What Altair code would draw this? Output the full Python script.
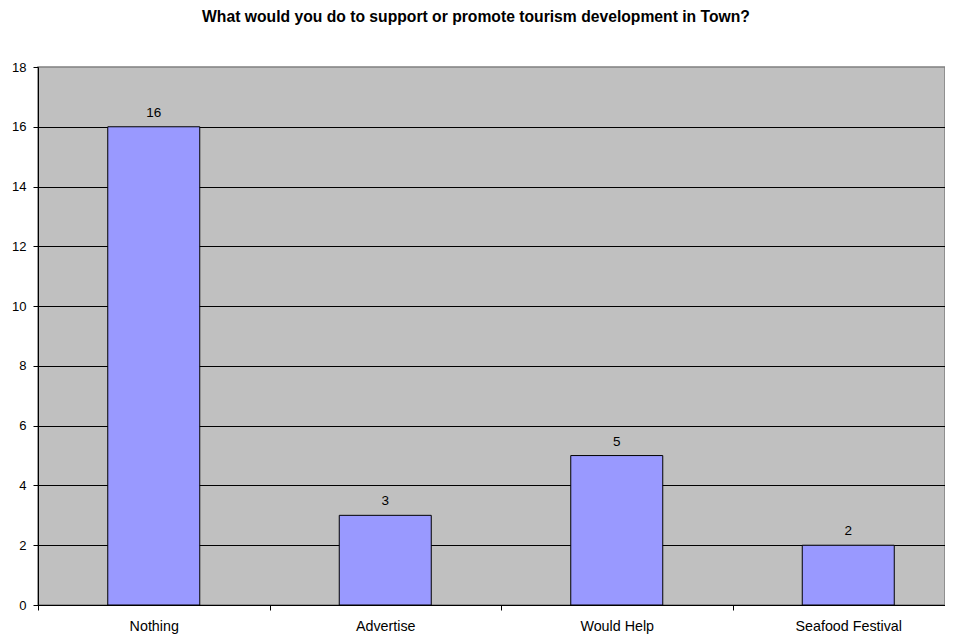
import altair as alt
import pandas as pd

categories = ["Nothing", "Advertise", "Would Help", "Seafood Festival"]
values = [16, 3, 5, 2]
y_ticks = [0, 2, 4, 6, 8, 10, 12, 14, 16, 18]

df = pd.DataFrame({"category": categories, "count": values, "idx": list(range(len(categories)))})

FONT = "Liberation Sans"
W = 907
STEP = 231.5
x_max = -0.5 + W / STEP

label_map = "{" + ",".join(f"'{i}':'{c}'" for i, c in enumerate(categories)) + "}"
x_tick_values = [-0.5, 0, 0.5, 1, 1.5, 2, 2.5, 3]

x_enc = alt.X(
    "idx:Q",
    title=None,
    scale=alt.Scale(domain=[-0.5, x_max], nice=False, zero=False, padding=0),
    axis=alt.Axis(
        values=x_tick_values,
        labelExpr=f"datum.value % 1 === 0 ? {label_map}[''+datum.value] : ''",
        labelOverlap=False,
        labelAngle=0, grid=False, domainColor="black",
        tickColor=alt.ExprRef("datum.value % 1 === 0 ? 'transparent' : 'black'"),
        tickSize=5, labelPadding=9, labelFont=FONT,
        labelFontSize=14.3, labelColor="black", domainWidth=1,
    ),
)
y_enc = alt.Y(
    "count:Q",
    title=None,
    scale=alt.Scale(domain=[0, 18], nice=False),
    axis=alt.Axis(
        values=y_ticks, grid=True,
        gridColor=alt.ExprRef("datum.value === 18 ? 'transparent' : 'black'"),
        gridWidth=1, gridOpacity=1,
        domainColor="black", tickColor="black", tickSize=5, labelPadding=7,
        labelFont=FONT, labelFontSize=13, labelColor="black",
    ),
)

bars = alt.Chart(df).mark_bar(size=92, color="#9999FF", stroke="black", strokeWidth=1).encode(
    x=x_enc, y=y_enc
)
labels = alt.Chart(df).mark_text(
    font=FONT, fontSize=13.5, color="black", baseline="alphabetic", dy=-10
).encode(x="idx:Q", y="count:Q", text="count:Q")

chart = (
    alt.layer(bars, labels)
    .properties(
        width=W,
        height=538,
        autosize=alt.AutoSizeParams(type="none"),
        padding={"left": 30, "top": 59, "right": 0, "bottom": 31},
        background="white",
        title=alt.TitleParams(
            "What would you do to support or promote tourism development in Town?",
            font=FONT, fontSize=15.7, fontWeight="bold", color="black",
            anchor="middle", dx=-15.5, offset=35, baseline="top",
        ),
    )
    .configure_view(fill="#C0C0C0", stroke="#808080", strokeWidth=1.5)
)

chart.save("out.html", embed_options={"renderer": "svg", "actions": False})
